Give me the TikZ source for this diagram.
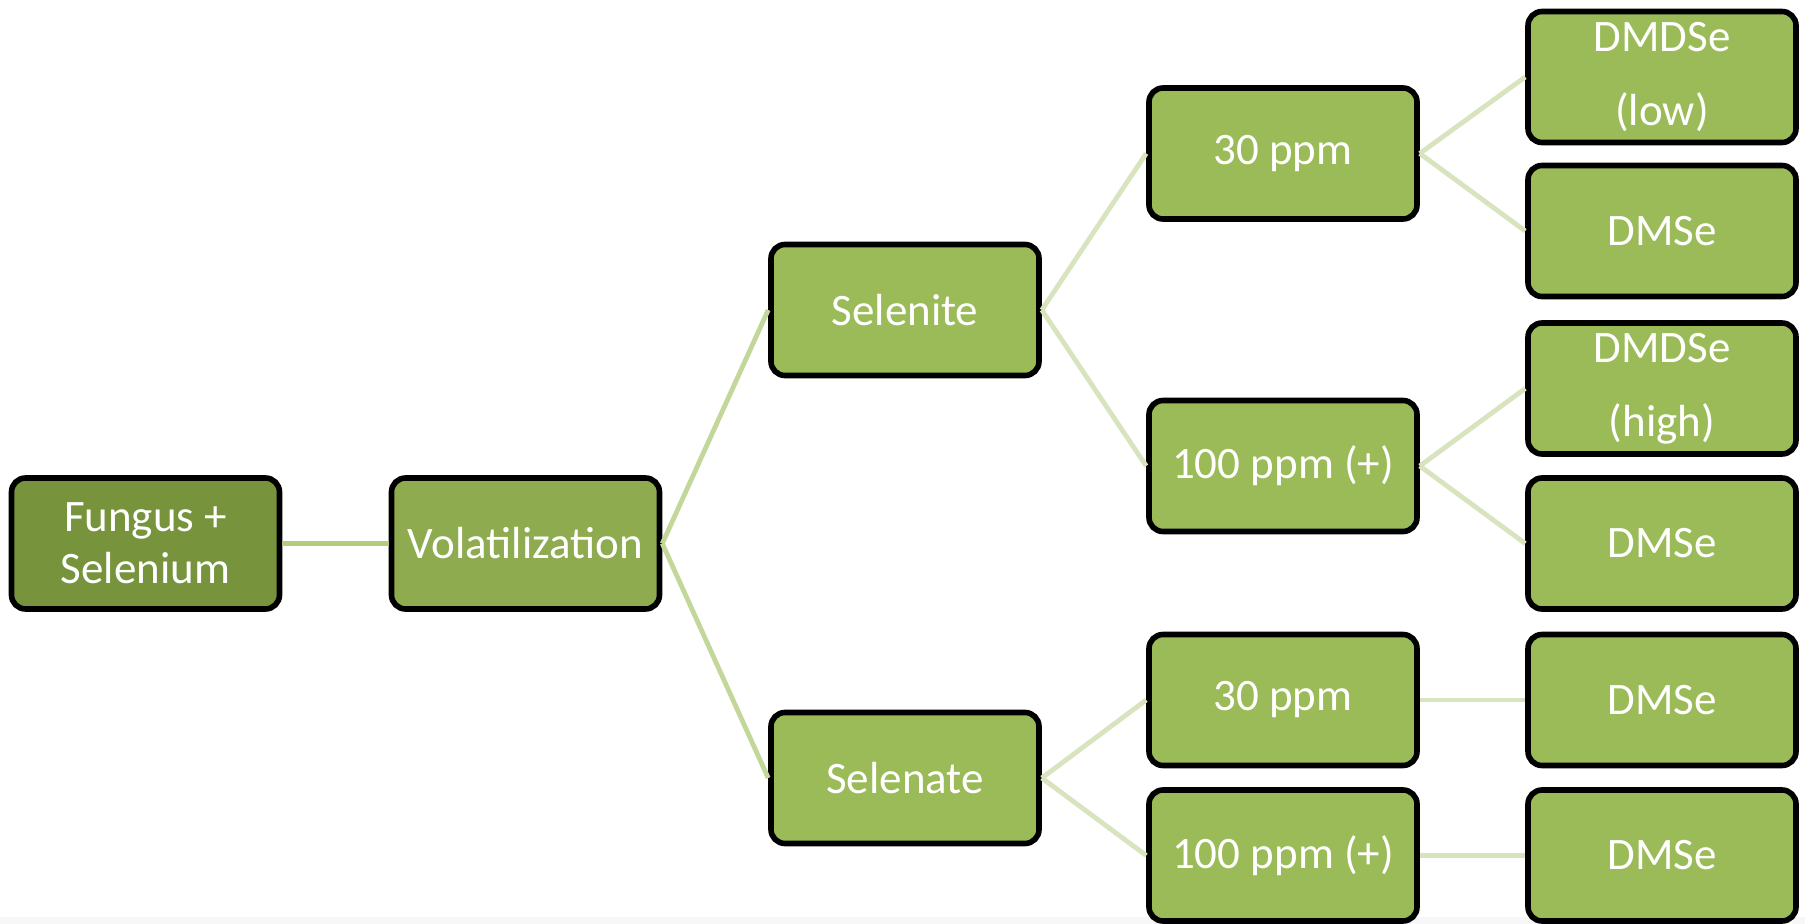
\documentclass[tikz,border=0pt]{standalone}
\usepackage{fontspec}
\setmainfont{Carlito}

\definecolor{root_fill}{HTML}{77933C}
\definecolor{mid_fill}{HTML}{8EAB50}
\definecolor{leaf_fill}{HTML}{9BBB59}
\definecolor{link_one}{HTML}{B3CC82}
\definecolor{link_two}{HTML}{C4D79B}
\definecolor{link_three}{HTML}{D7E4BD}

\tikzset{
    box/.style={draw=black, line width=2.8pt, rounded corners=7pt, fill=leaf_fill,
        minimum width=134pt, minimum height=65.5pt, inner sep=0pt, align=center,
        text=white, font=\fontsize{22.5}{26}\selectfont},
    link/.style={line width=2.4pt}
}

\begin{document}
\begin{tikzpicture}[x={(0.5pt,0pt)}, y={(0pt,-0.5pt)}]
    \useasboundingbox (0,0) rectangle (1805,924);
    \fill[white] (0,0) rectangle (1805,924);
    \fill[black!3] (0,917) rectangle (1805,924);

    % first two levels
    \node[box, fill=root_fill] (fungus) at (145.5,543.5) {Fungus +\\Selenium};
    \node[box, fill=mid_fill] (volat) at (525.5,543.5) {Volatilization};

    \node[box] (selenite) at (905,310) {Selenite};
    \node[box] (selenate) at (905,778) {Selenate};

    % concentrations
    \node[box] (ite_low) at (1283,153.5) {30 ppm};
    \node[box] (ite_high) at (1283,466) {100 ppm (+)};
    \node[box] (ate_low) at (1283,700) {30 ppm};
    \node[box] (ate_high) at (1283,855.5) {100 ppm (+)};

    % products
    \node[box] (prod_a) at (1662,77) {DMDSe\\[11pt](low)};
    \node[box] (prod_b) at (1662,231) {DMSe};
    \node[box] (prod_c) at (1662,388.5) {DMDSe\\[11pt](high)};
    \node[box] (prod_d) at (1662,543.5) {DMSe};
    \node[box] (prod_e) at (1662,700) {DMSe};
    \node[box] (prod_f) at (1662,855.5) {DMSe};

    % connectors
    \draw[link, link_one] (fungus.east) -- (volat.west);
    \foreach \child in {selenite, selenate}
        \draw[link, link_two] (volat.east) -- (\child.west);
    \foreach \parent/\child in {selenite/ite_low, selenite/ite_high, selenate/ate_low, selenate/ate_high,
            ite_low/prod_a, ite_low/prod_b, ite_high/prod_c, ite_high/prod_d,
            ate_low/prod_e, ate_high/prod_f}
        \draw[link, link_three] (\parent.east) -- (\child.west);
\end{tikzpicture}
\end{document}
